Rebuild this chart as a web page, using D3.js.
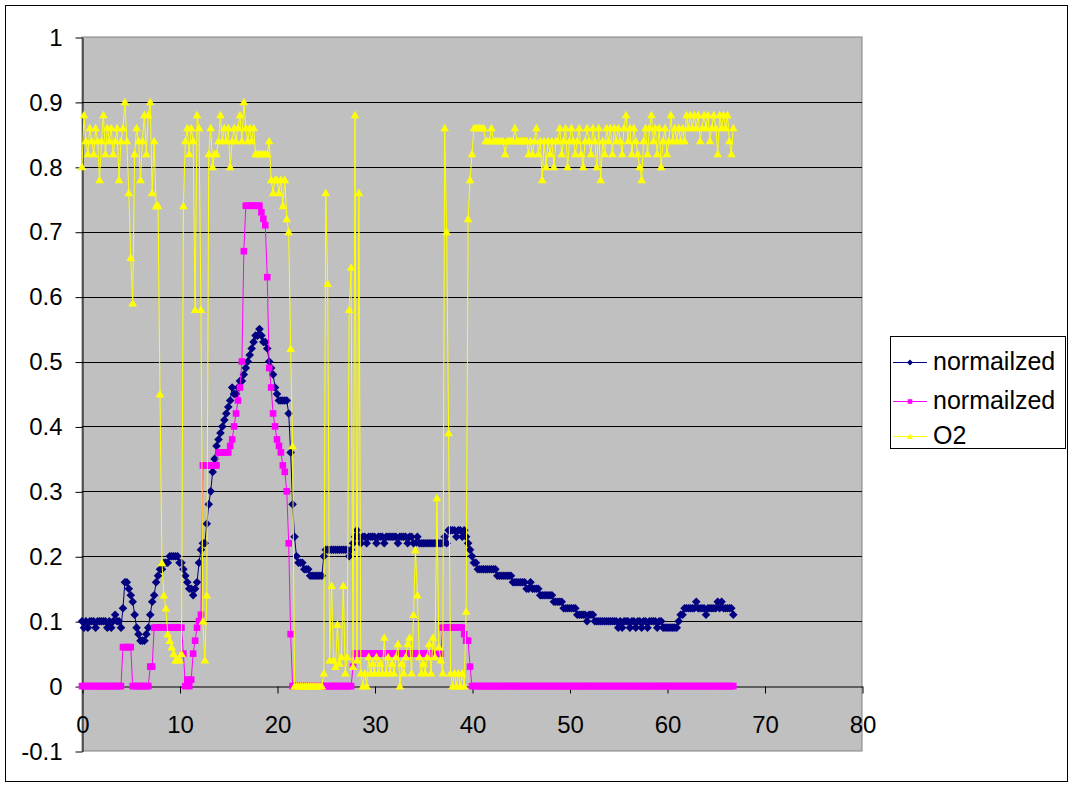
<!DOCTYPE html>
<html><head><meta charset="utf-8">
<script src="https://cdn.jsdelivr.net/npm/d3@7"></script>
<style>html,body{margin:0;padding:0;background:#fff;} svg{display:block;font-family:Arial,"Liberation Sans",sans-serif;}</style>
</head><body><svg id="c" width="1074" height="787"></svg>
<script>
// ---- data ----
const timeStep = 0.2; // sampling interval of the series (x units)
const seriesNames = ["normailzed", "normailzed", "O2"];
const xTicks = [0, 10, 20, 30, 40, 50, 60, 70, 80];
const xTickLabels = ["0", "10", "20", "30", "40", "50", "60", "70", "80"];
const yTicks = [-0.1, 0, 0.1, 0.2, 0.3, 0.4, 0.5, 0.6, 0.7, 0.8, 0.9, 1];
const yTickLabels = ["-0.1", "0", "0.1", "0.2", "0.3", "0.4", "0.5", "0.6", "0.7", "0.8", "0.9", "1"];

const normalized1 = [
0.10,0.09,0.10,0.09,0.10,0.10,0.10,0.09,0.10,0.10,
0.10,0.10,0.10,0.09,0.10,0.09,0.10,0.11,0.10,0.10,
0.09,0.12,0.16,0.16,0.15,0.14,0.13,0.11,0.09,0.08,
0.07,0.07,0.07,0.08,0.09,0.11,0.13,0.14,0.16,0.17,
0.18,0.18,0.19,0.19,0.19,0.20,0.20,0.20,0.20,0.20,
0.19,0.19,0.18,0.17,0.16,0.15,0.15,0.14,0.15,0.16,
0.19,0.21,0.22,0.22,0.25,0.28,0.30,0.33,0.35,0.37,
0.38,0.39,0.40,0.41,0.42,0.43,0.44,0.46,0.45,0.45,
0.46,0.47,0.47,0.48,0.49,0.50,0.51,0.52,0.53,0.54,
0.54,0.55,0.54,0.53,0.53,0.52,0.50,0.49,0.48,0.46,
0.45,0.44,0.44,0.44,0.44,0.44,0.42,0.36,0.28,0.23,
0.20,0.19,0.19,0.19,0.18,0.18,0.18,0.17,0.17,0.17,
0.17,0.17,0.17,0.17,0.20,0.21,0.21,0.21,0.21,0.21,
0.21,0.21,0.21,0.21,0.21,0.21,0.21,0.20,0.21,0.22,
0.23,0.24,0.23,0.22,0.23,0.23,0.22,0.23,0.23,0.23,
0.23,0.22,0.23,0.23,0.23,0.22,0.23,0.23,0.23,0.23,
0.23,0.23,0.22,0.23,0.23,0.23,0.23,0.22,0.23,0.23,
0.22,0.22,0.23,0.22,0.22,0.22,0.22,0.22,0.22,0.22,
0.22,0.22,0.22,0.22,0.22,0.22,0.23,0.22,0.24,0.24,
0.24,0.24,0.23,0.24,0.24,0.23,0.24,0.23,0.22,0.21,
0.20,0.19,0.19,0.18,0.18,0.18,0.18,0.18,0.18,0.18,
0.18,0.18,0.18,0.17,0.17,0.17,0.17,0.17,0.17,0.17,
0.17,0.16,0.16,0.16,0.16,0.16,0.16,0.16,0.15,0.15,
0.16,0.15,0.15,0.15,0.15,0.14,0.14,0.14,0.14,0.14,
0.14,0.14,0.13,0.13,0.13,0.13,0.13,0.12,0.12,0.12,
0.12,0.12,0.12,0.12,0.11,0.11,0.11,0.11,0.11,0.10,
0.11,0.11,0.11,0.10,0.10,0.10,0.10,0.10,0.10,0.10,
0.10,0.10,0.10,0.10,0.10,0.09,0.10,0.09,0.10,0.10,
0.10,0.09,0.10,0.10,0.09,0.10,0.10,0.09,0.10,0.10,
0.09,0.10,0.10,0.10,0.10,0.09,0.10,0.10,0.09,0.09,
0.09,0.09,0.09,0.09,0.09,0.09,0.10,0.11,0.11,0.12,
0.12,0.12,0.12,0.12,0.12,0.13,0.12,0.12,0.12,0.12,
0.11,0.12,0.12,0.12,0.12,0.12,0.13,0.12,0.13,0.12,
0.12,0.12,0.12,0.12,0.11
];

const normalized2 = [
0,0,0,0,0,0,0,0,0,0,
0,0,0,0,0,0,0,0,0,0,
0,0.06,0.06,0.06,0.06,0.06,0,0,0,0,
0,0,0,0,0,0.03,0.03,0.09,0.09,0.09,
0.09,0.09,0.09,0.09,0.09,0.09,0.09,0.09,0.09,0.09,
0.09,0.09,0.05,0,0.01,0,0.01,0.05,0.07,0.09,
0.10,0.11,0.34,0.34,0.34,0.34,0.34,0.34,0.34,0.34,
0.36,0.36,0.36,0.36,0.36,0.36,0.37,0.38,0.40,0.42,
0.44,0.46,0.50,0.67,0.74,0.74,0.74,0.74,0.74,0.74,
0.74,0.74,0.73,0.72,0.71,0.63,0.49,0.46,0.42,0.40,
0.38,0.37,0.36,0.34,0.33,0.30,0.22,0.08,0,0,
0,0,0,0,0,0,0,0,0,0,
0,0,0,0,0,0,0,0,0,0,
0,0,0,0,0,0,0,0,0,0.03,
0.05,0.05,0.05,0.05,0.05,0.05,0.05,0.05,0.05,0.05,
0.05,0.05,0.05,0.05,0.05,0.05,0.05,0.05,0.05,0.05,
0.05,0.05,0.05,0.05,0.05,0.05,0.05,0.05,0.05,0.05,
0.05,0.05,0.05,0.05,0.05,0.05,0.05,0.05,0.05,0.05,
0.05,0.05,0.05,0.05,0.05,0.09,0.09,0.09,0.09,0.09,
0.09,0.09,0.09,0.09,0.09,0.09,0.08,0.07,0.07,0.03,
0,0,0,0,0,0,0,0,0,0,
0,0,0,0,0,0,0,0,0,0,
0,0,0,0,0,0,0,0,0,0,
0,0,0,0,0,0,0,0,0,0,
0,0,0,0,0,0,0,0,0,0,
0,0,0,0,0,0,0,0,0,0,
0,0,0,0,0,0,0,0,0,0,
0,0,0,0,0,0,0,0,0,0,
0,0,0,0,0,0,0,0,0,0,
0,0,0,0,0,0,0,0,0,0,
0,0,0,0,0,0,0,0,0,0,
0,0,0,0,0,0,0,0,0,0,
0,0,0,0,0,0,0,0,0,0,
0,0,0,0,0
];

const o2 = [
0.80,0.88,0.84,0.82,0.86,0.84,0.82,0.86,0.84,0.78,
0.84,0.88,0.82,0.86,0.84,0.86,0.82,0.84,0.86,0.78,
0.84,0.86,0.90,0.84,0.76,0.66,0.59,0.82,0.86,0.84,
0.78,0.84,0.88,0.82,0.88,0.90,0.76,0.84,0.74,0.74,
0.45,0.19,0.14,0.12,0.08,0.07,0.06,0.05,0.04,0.04,
0.04,0.05,0.74,0.84,0.86,0.82,0.86,0.84,0.58,0.88,
0.86,0.58,0.10,0.04,0.14,0.82,0.86,0.80,0.82,0.82,
0.84,0.88,0.84,0.86,0.84,0.86,0.80,0.84,0.86,0.84,
0.86,0.88,0.84,0.90,0.86,0.84,0.86,0.84,0.86,0.82,
0.82,0.82,0.82,0.82,0.82,0.82,0.84,0.78,0.76,0.78,
0.78,0.76,0.78,0.74,0.78,0.72,0.70,0.52,0.37,0.00,
0,0,0,0,0,0,0,0,0,0,
0,0,0,0,0.02,0.76,0.62,0.04,0.155,0.04,
0.03,0.095,0.035,0.045,0.155,0.02,0.045,0.58,0.645,0.03,
0.88,0.04,0.76,0.02,0.00,0.02,0.00,0.045,0.02,0.035,
0.02,0.045,0.02,0.035,0.02,0.075,0.02,0.045,0.02,0.035,
0.02,0.045,0.065,0.00,0.035,0.02,0.045,0.065,0.075,0.02,
0.11,0.21,0.14,0.045,0.02,0.035,0.02,0.045,0.065,0.02,
0.075,0.045,0.29,0.06,0.04,0.02,0.86,0.70,0.39,0.02,
0.00,0.02,0.00,0.02,0.00,0.02,0.00,0.115,0.72,0.78,
0.82,0.86,0.86,0.86,0.86,0.86,0.86,0.84,0.84,0.84,
0.86,0.84,0.84,0.84,0.84,0.84,0.84,0.82,0.84,0.84,
0.84,0.84,0.86,0.84,0.84,0.84,0.84,0.84,0.84,0.82,
0.84,0.82,0.84,0.86,0.82,0.84,0.78,0.84,0.80,0.84,
0.82,0.84,0.80,0.84,0.84,0.86,0.82,0.84,0.86,0.80,
0.84,0.86,0.84,0.82,0.84,0.86,0.82,0.80,0.84,0.86,
0.84,0.82,0.86,0.84,0.80,0.86,0.78,0.84,0.82,0.86,
0.84,0.86,0.82,0.86,0.84,0.86,0.84,0.82,0.86,0.88,
0.84,0.86,0.82,0.86,0.84,0.82,0.80,0.78,0.84,0.86,
0.82,0.86,0.88,0.84,0.86,0.82,0.86,0.80,0.84,0.86,
0.82,0.84,0.88,0.84,0.86,0.84,0.86,0.84,0.86,0.84,
0.88,0.86,0.88,0.86,0.88,0.86,0.88,0.84,0.86,0.88,
0.86,0.88,0.84,0.86,0.88,0.86,0.82,0.88,0.86,0.88,
0.86,0.88,0.84,0.82,0.86
];

// ---- chart ----
const svg = d3.select("#c");
const plot = {left: 82, right: 862, top: 37, bottom: 751};
const x = d3.scaleLinear().domain([0, 80]).range([plot.left, plot.right]);
const y = d3.scaleLinear().domain([-0.1, 1]).range([plot.bottom, plot.top]);
const times = normalized1.map((_, i) => +(i * timeStep).toFixed(1));

// outer frame
svg.append("rect").attr("x", 5.5).attr("y", 5.5).attr("width", 1062).attr("height", 776)
  .attr("fill", "#fff").attr("stroke", "#000").attr("stroke-width", 1);

// plot area
svg.append("rect").attr("x", plot.left).attr("y", plot.top)
  .attr("width", plot.right - plot.left).attr("height", plot.bottom - plot.top)
  .attr("fill", "#c0c0c0").attr("stroke", "#808080").attr("stroke-width", 1);

// gridlines
svg.append("g").selectAll("line").data(yTicks.filter(v => v > -0.1 && v < 1 && v !== 0)).join("line")
  .attr("x1", plot.left).attr("x2", plot.right)
  .attr("y1", d => Math.round(y(d)) + 0.5).attr("y2", d => Math.round(y(d)) + 0.5)
  .attr("stroke", "#000").attr("stroke-width", 1);

// y axis
const yAxis = d3.axisLeft(y).tickValues(yTicks).tickFormat((d, i) => yTickLabels[i])
  .tickSizeInner(7).tickSizeOuter(0).tickPadding(13);
const gy = svg.append("g").attr("transform", `translate(${plot.left + 0.5},0.5)`).call(yAxis);
gy.select(".domain").attr("stroke", "#000");
gy.selectAll(".tick line").attr("stroke", "#000");
gy.selectAll(".tick text").attr("font-size", 24).attr("font-family", "Arial, 'Liberation Sans', sans-serif").attr("fill", "#000");

// x axis at y=0
const xAxis = d3.axisBottom(x).tickValues(xTicks).tickFormat((d, i) => xTickLabels[i])
  .tickSizeInner(7).tickSizeOuter(0).tickPadding(22);
const gx = svg.append("g").attr("transform", `translate(0.5,${Math.round(y(0)) + 0.5})`).call(xAxis);
gx.select(".domain").attr("stroke", "#000");
gx.selectAll(".tick line").attr("stroke", "#000");
gx.selectAll(".tick text").attr("font-size", 24).attr("font-family", "Arial, 'Liberation Sans', sans-serif").attr("fill", "#000");

// markers
const markers = {
  diamond: "M0,-4.3L4.3,0L0,4.3L-4.3,0Z",
  square: "M-3.3,-3.3H3.3V3.3H-3.3Z",
  triangle: "M0,-4.2L4.3,3.4L-4.3,3.4Z"
};
const series = [
  {name: seriesNames[0], values: normalized1, color: "#000080", marker: markers.diamond},
  {name: seriesNames[1], values: normalized2, color: "#ff00ff", marker: markers.square},
  {name: seriesNames[2], values: o2, color: "#ffff00", marker: markers.triangle}
];
const line = d3.line().x(d => x(d[0])).y(d => y(d[1]));

series.forEach(s => {
  const pts = s.values.map((v, i) => [times[i], v]);
  const g = svg.append("g");
  g.append("path").attr("d", line(pts)).attr("fill", "none").attr("stroke", s.color).attr("stroke-width", 1);
  g.selectAll("path.m").data(pts).join("path").attr("class", "m")
    .attr("d", s.marker)
    .attr("transform", d => `translate(${x(d[0])},${y(d[1])})`)
    .attr("fill", s.color).attr("stroke", "none");
});

// legend
const lg = svg.append("g");
lg.append("rect").attr("x", 890.5).attr("y", 336.5).attr("width", 175).attr("height", 112)
  .attr("fill", "#fff").attr("stroke", "#000").attr("stroke-width", 1);
const legendY = [362, 401, 436];
series.forEach((s, i) => {
  const yy = legendY[i];
  lg.append("line").attr("x1", 893).attr("x2", 927).attr("y1", yy + 0.5).attr("y2", yy + 0.5)
    .attr("stroke", s.color).attr("stroke-width", 1);
  lg.append("path").attr("d", s.marker).attr("transform", `translate(910,${yy + 0.5}) scale(0.7)`).attr("fill", s.color);
  lg.append("text").attr("x", 933).attr("y", yy + 8).attr("font-size", 25)
    .attr("font-family", "Arial, 'Liberation Sans', sans-serif").attr("fill", "#000").text(s.name);
});
</script>
</body></html>
